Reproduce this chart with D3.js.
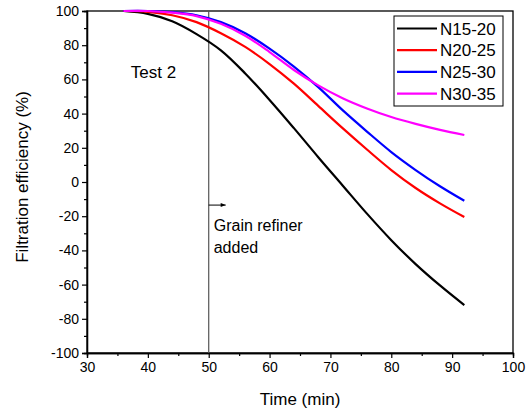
<!DOCTYPE html>
<html>
<head>
<meta charset="utf-8">
<script src="https://cdn.jsdelivr.net/npm/d3@7"></script>
<style>
  body { margin: 0; background: #fff; }
  text { font-family: "Liberation Sans", Arial, sans-serif; fill: #000; }
</style>
</head>
<body>
<div id="chart"></div>
<script>
const times = [36, 40, 44, 48, 52, 56, 60, 64, 68, 72, 76, 80, 84, 88, 92];

// filtration efficiency (%) for each series at those times
const n1520 = [100, 98.3, 94, 86.5, 77, 63.5, 48, 31.5, 14.5, -2, -18.5, -34, -48, -60.5, -72];
const n2025 = [100, 99.5, 97.5, 93.5, 87, 79, 69, 57.5, 44.5, 31.5, 19, 7, -3.5, -12.5, -20.5];
const n2530 = [100, 100, 99.3, 97.5, 93.5, 87, 78, 67.5, 55.5, 42, 29.5, 17.5, 7, -2.5, -11];
const n3035 = [100, 100, 99, 97, 92.5, 85.5, 76, 65.5, 56.5, 49, 43, 38, 34, 30.5, 27.5];

const seriesNames = ["N15-20", "N20-25", "N25-30", "N30-35"];
const seriesColors = ["#000000", "#ff0000", "#0000ff", "#ff00ff"];
const seriesData = [n1520, n2025, n2530, n3035];

const xTicks = [30, 40, 50, 60, 70, 80, 90, 100];
const yTicks = [100, 80, 60, 40, 20, 0, -20, -40, -60, -80, -100];
const refinerTime = 50;

const width = 531, height = 411;
const margin = {left: 87, right: 18, top: 11, bottom: 58};

const svg = d3.select("#chart").append("svg")
    .attr("width", width)
    .attr("height", height);

const x = d3.scaleLinear().domain([30, 100]).range([margin.left, width - margin.right]);
const y = d3.scaleLinear().domain([-100, 100]).range([height - margin.bottom, margin.top]);

// frame with top and right lines
svg.append("rect")
    .attr("x", x(30)).attr("y", y(100))
    .attr("width", x(100) - x(30)).attr("height", y(-100) - y(100))
    .attr("fill", "none").attr("stroke", "#000").attr("stroke-width", 1.3);

// minor ticks
const xAxisMinor = d3.axisBottom(x).tickValues(d3.range(35, 100, 10)).tickSize(3).tickFormat("");
const yAxisMinor = d3.axisLeft(y).tickValues(d3.range(-90, 100, 20)).tickSize(3).tickFormat("");
svg.append("g").attr("transform", `translate(0,${y(-100)})`).call(xAxisMinor);
svg.append("g").attr("transform", `translate(${x(30)},0)`).call(yAxisMinor);

const xAxis = d3.axisBottom(x).tickValues(xTicks).tickSize(5).tickPadding(4).tickFormat(d => String(d));
const yAxis = d3.axisLeft(y).tickValues(yTicks).tickSize(5).tickPadding(3).tickFormat(d => String(d));

svg.append("g").attr("transform", `translate(0,${y(-100)})`).call(xAxis);
svg.append("g").attr("transform", `translate(${x(30)},0)`).call(yAxis);

svg.selectAll(".domain").attr("stroke", "#000").attr("stroke-width", 1.3);
svg.selectAll(".tick line").attr("stroke", "#000").attr("stroke-width", 1.2);
svg.selectAll(".tick text").style("font-size", "14px")
    .style("font-family", "'Liberation Sans', Arial, sans-serif");

// vertical line where the refiner was added
svg.append("line")
    .attr("x1", x(refinerTime)).attr("x2", x(refinerTime))
    .attr("y1", y(100)).attr("y2", y(-100))
    .attr("stroke", "#555").attr("stroke-width", 1.2);

// curves
const line = d3.line()
    .x((d, i) => x(times[i]))
    .y(d => y(d))
    .curve(d3.curveCatmullRom);

svg.selectAll("path.series")
    .data(seriesData)
    .enter()
    .append("path")
    .attr("class", "series")
    .attr("d", d => line(d))
    .attr("fill", "none")
    .attr("stroke", (d, i) => seriesColors[i])
    .attr("stroke-width", 2.2);

// annotations
svg.append("text").attr("x", x(37.2)).attr("y", y(60.6))
    .style("font-size", "17px").text("Test 2");

svg.append("defs").append("marker")
    .attr("id", "arrow")
    .attr("viewBox", "0 0 10 10")
    .attr("refX", 10).attr("refY", 5)
    .attr("markerWidth", 7).attr("markerHeight", 5)
    .attr("orient", "auto")
    .append("path").attr("d", "M0,1L10,5L0,9z").attr("fill", "#000");

svg.append("line")
    .attr("x1", x(refinerTime)).attr("x2", x(refinerTime) + 17)
    .attr("y1", y(-13.5)).attr("y2", y(-13.5))
    .attr("stroke", "#000").attr("stroke-width", 1)
    .attr("marker-end", "url(#arrow)");

svg.append("text").attr("x", x(refinerTime) + 5).attr("y", y(-28.7))
    .style("font-size", "16px").text("Grain refiner");
svg.append("text").attr("x", x(refinerTime) + 5).attr("y", y(-41.5))
    .style("font-size", "16px").text("added");

// axis titles
svg.append("text")
    .attr("x", (x(30) + x(100)) / 2).attr("y", 405)
    .attr("text-anchor", "middle")
    .style("font-size", "17px").text("Time (min)");

svg.append("text")
    .attr("transform", `translate(28,177) rotate(-90)`)
    .attr("text-anchor", "middle")
    .style("font-size", "17px").text("Filtration efficiency (%)");

// legend
const lg = svg.append("g").attr("transform", "translate(394,16)");
lg.append("rect").attr("width", 109).attr("height", 90)
    .attr("fill", "#fff").attr("stroke", "#000").attr("stroke-width", 1);

const rows = lg.selectAll("g.row").data(seriesNames).enter().append("g")
    .attr("transform", (d, i) => `translate(0,${12.5 + i * 21.7})`);
rows.append("line").attr("x1", 3).attr("x2", 43).attr("y1", 0).attr("y2", 0)
    .attr("stroke", (d, i) => seriesColors[i]).attr("stroke-width", 2.2);
rows.append("text").attr("x", 46).attr("y", 6)
    .style("font-size", "17px").text(d => d);
</script>
</body>
</html>
